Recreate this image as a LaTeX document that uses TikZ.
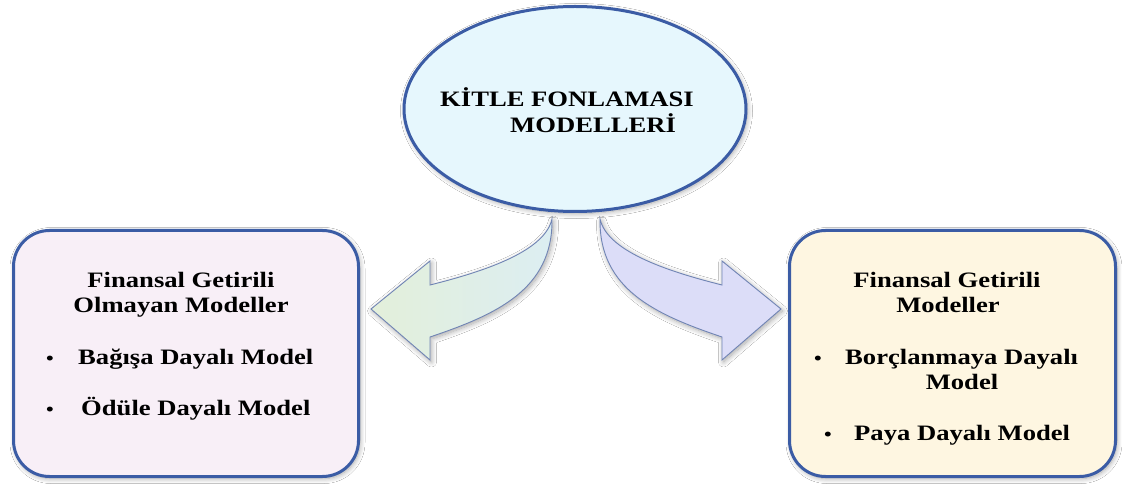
\documentclass[tikz,border=0pt]{standalone}
\usepackage{fontspec}
\setmainfont{Liberation Serif}
\newfontfamily\lblfont[FakeStretch=1.21]{Liberation Serif}
\usetikzlibrary{shapes.geometric,shadows.blur}
\definecolor{edgeblue}{HTML}{3B5CA5}
\definecolor{arrowedge}{HTML}{7084B4}
\definecolor{ellfill}{HTML}{E6F7FD}
\definecolor{pinkfill}{HTML}{F8EFF7}
\definecolor{creamfill}{HTML}{FEF6E1}
\definecolor{greenfill}{HTML}{E3EFDA}
\definecolor{bluegreen}{HTML}{DCEEF2}
\definecolor{lavfill}{HTML}{DCDDF8}
\begin{document}
\begin{tikzpicture}[x=1pt,y=-1pt,
  soft/.style={blur shadow={shadow blur steps=10, shadow xshift=1.5pt, shadow yshift=-2pt, shadow blur radius=5pt, shadow opacity=35}},
  lbl/.style={font=\lblfont\bfseries\fontsize{22}{25}\selectfont, inner sep=0pt, anchor=base west},
  ctr/.style={font=\lblfont\bfseries\fontsize{22}{25}\selectfont, inner sep=0pt, anchor=base},
  dot/.style={font=\lblfont\bfseries\fontsize{18}{20}\selectfont, inner sep=0pt, anchor=base},
  panel/.style={draw=edgeblue, line width=3pt, rounded corners=36pt, minimum height=246pt, inner sep=0pt, soft},
  blockarrow/.style={draw=arrowedge, line width=0.9pt, soft}]
\useasboundingbox (0,0) rectangle (1122,486);
\fill[white] (0,0) rectangle (1122,486);

% curved block arrows from the central ellipse
\coordinate (la) at (552,219);
\coordinate (ra) at (600,219);
\path[blockarrow, left color=greenfill, right color=bluegreen]
  (la) .. controls (545,250) and (490,270) .. (430,285) -- (430,261) -- (371,309)
  -- (430,360) -- (430,337) .. controls (495,315) and (553,290) .. (la) -- cycle;
\path[blockarrow, fill=lavfill]
  (ra) .. controls (607,250) and (662,270) .. (722,285) -- (722,261) -- (781,309)
  -- (722,360) -- (722,337) .. controls (657,315) and (599,290) .. (ra) -- cycle;

% central ellipse
\node[ellipse, draw=edgeblue, line width=3pt, fill=ellfill, minimum width=342pt,
      minimum height=205pt, inner sep=0pt, soft] (top) at (575,109) {};
\node[lbl] (t1) at (440,107) {KİTLE FONLAMASI};
\node[lbl] (t2) at (510,133) {MODELLERİ};

% left panel
\node[panel, fill=pinkfill, minimum width=345pt] (lp) at (186,353.5) {};
\node[ctr] (l1) at (181,288) {Finansal Getirili};
\node[ctr] (l2) at (181,313) {Olmayan Modeller};
\node[dot] (lb1) at (50,364) {•};
\node[lbl] (l3) at (78,364) {Bağışa Dayalı Model};
\node[dot] (lb2) at (50,415) {•};
\node[lbl] (l4) at (81,415) {Ödüle Dayalı Model};

% right panel
\node[panel, fill=creamfill, minimum width=326pt] (rp) at (952.5,353.5) {};
\node[ctr] (r1) at (947,288) {Finansal Getirili};
\node[ctr] (r2) at (948,313) {Modeller};
\node[dot] (rb1) at (818,364) {•};
\node[lbl] (r3) at (845,364) {Borçlanmaya Dayalı};
\node[ctr] (r4) at (962,389) {Model};
\node[dot] (rb2) at (828,440) {•};
\node[lbl] (r5) at (854,440) {Paya Dayalı Model};
\end{tikzpicture}
\end{document}
